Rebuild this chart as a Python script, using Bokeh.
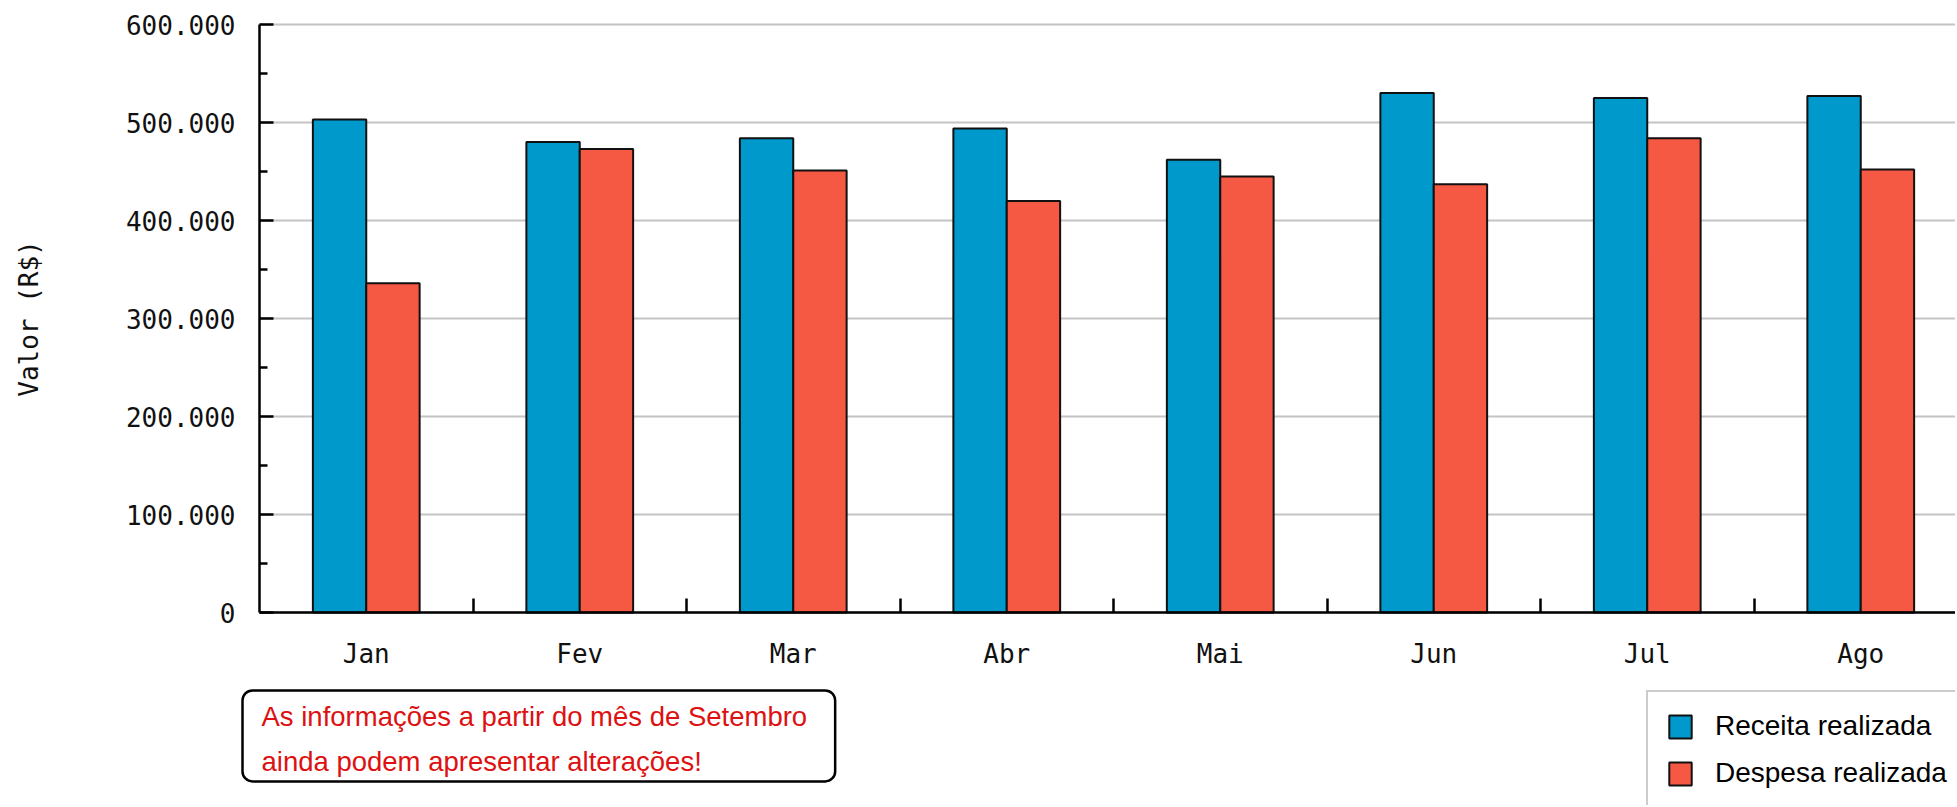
from bokeh.plotting import figure
from bokeh.models import FixedTicker, Label, Range1d, ColumnDataSource
from bokeh.embed import file_html
from bokeh.resources import INLINE
import numpy as np

# ---- data ----
months = ["Jan", "Fev", "Mar", "Abr", "Mai", "Jun", "Jul", "Ago"]
receita = [503000, 480000, 484000, 494000, 462000, 530000, 525000, 527000]
despesa = [336000, 473000, 451000, 420000, 445000, 437000, 484000, 452000]
y_ticks = [0, 100000, 200000, 300000, 400000, 500000, 600000]
y_tick_labels = ["0", "100.000", "200.000", "300.000", "400.000", "500.000", "600.000"]
series_names = ["Receita realizada", "Despesa realizada"]
axis_title = "Valor (R$)"
note_lines = ["As informações a partir do mês de Setembro",
              "ainda podem apresentar alterações!"]

BLUE = "#0099CC"
RED = "#F55944"
MONO = "DejaVu Sans Mono"
SANS = "Liberation Sans"
GRID = "#c4c4c4"

# ---- canvas geometry (pixels) ----
W, H = 1955, 805
X0, Y0 = 259, 612          # pixel position of (x=0, y=0)
PX_CAT = 213.5             # pixels per month
PX_VAL = 98.0 / 100000     # pixels per R$

def xd(px):  # pixel column -> data x
    return (px - X0) / PX_CAT

def yd(py):  # pixel row -> data y
    return (Y0 - py) / PX_VAL

x_start, x_end = xd(0), xd(W)
y_start, y_end = yd(H), yd(0)

idx = np.arange(len(months))
src = ColumnDataSource(dict(
    x_r=idx + 0.375, x_d=idx + 0.625,
    receita=receita, despesa=despesa,
))

p = figure(width=W, height=H, title=None,
           x_range=Range1d(x_start, x_end), y_range=Range1d(y_start, y_end),
           output_backend="svg", toolbar_location=None, min_border=0)
p.outline_line_color = None
p.background_fill_color = "white"
p.border_fill_color = "white"

# horizontal grid lines, only to the right of the y axis
p.xgrid.visible = False
if "cross_bounds" in p.ygrid[0].properties():
    p.ygrid.cross_bounds = (0, x_end)
    p.ygrid.grid_line_color = GRID
    p.ygrid.grid_line_width = 2
else:
    p.ygrid.visible = False
    gsrc = ColumnDataSource(dict(y=y_ticks, x0=[0] * len(y_ticks),
                                 x1=[x_end] * len(y_ticks)))
    p.segment(x0="x0", y0="y", x1="x1", y1="y", source=gsrc,
              line_color=GRID, line_width=2)

p.vbar(x="x_r", top="receita", width=0.25, source=src,
       fill_color=BLUE, line_color="#111111", line_width=2,
       legend_label=series_names[0])
p.vbar(x="x_d", top="despesa", width=0.25, source=src,
       fill_color=RED, line_color="#111111", line_width=2,
       legend_label=series_names[1])

# x axis (drawn at y = 0)
p.xaxis.fixed_location = 0
p.xaxis.bounds = (0, x_end)
p.xaxis.ticker = FixedTicker(ticks=[float(i + 0.5) for i in idx],
                             minor_ticks=[float(i) for i in idx[1:]])
p.xaxis.major_label_overrides = {float(i + 0.5): m for i, m in zip(idx, months)}
p.xaxis.major_tick_in = 0
p.xaxis.major_tick_out = 0
p.xaxis.minor_tick_in = 14
p.xaxis.minor_tick_out = 0
p.xaxis.minor_tick_line_width = 2.5
p.xaxis.minor_tick_line_color = "black"
p.xaxis.axis_line_width = 2.5
p.xaxis.axis_line_color = "black"
p.xaxis.major_label_text_font = MONO
p.xaxis.major_label_text_font_size = "26px"
p.xaxis.major_label_text_color = "#111111"
p.xaxis.major_label_standoff = 26

# y axis (drawn at x = 0)
minor_y = [(a + b) / 2 for a, b in zip(y_ticks[:-1], y_ticks[1:])]
p.yaxis.fixed_location = 0
p.yaxis.bounds = (y_ticks[0], y_ticks[-1])
p.yaxis.ticker = FixedTicker(ticks=y_ticks, minor_ticks=minor_y)
p.yaxis.major_label_overrides = {t: l for t, l in zip(y_ticks, y_tick_labels)}
p.yaxis.major_tick_in = 14
p.yaxis.major_tick_out = 0
p.yaxis.minor_tick_in = 8
p.yaxis.minor_tick_out = 0
p.yaxis.major_tick_line_width = 2.5
p.yaxis.minor_tick_line_width = 2.5
p.yaxis.axis_line_width = 2.5
p.yaxis.axis_line_color = "black"
p.yaxis.major_label_text_font = MONO
p.yaxis.major_label_text_font_size = "26px"
p.yaxis.major_label_text_color = "#111111"
p.yaxis.major_label_standoff = 24
p.yaxis.axis_label = axis_title
p.yaxis.axis_label_text_font = MONO
p.yaxis.axis_label_text_font_size = "26px"
p.yaxis.axis_label_text_font_style = "normal"
p.yaxis.axis_label_text_color = "#111111"
p.yaxis.axis_label_standoff = 79

# legend (bottom right, partly cut like the original)
lg = p.legend[0]
lg.location = (1646, H - 809)
lg.orientation = "vertical"
lg.padding = 18
lg.margin = 0
lg.spacing = 15
lg.glyph_width = 28
lg.glyph_height = 29
lg.label_height = 29
lg.label_standoff = 21
lg.label_text_font = SANS
lg.label_text_font_size = "28px"
lg.label_text_color = "black"
lg.border_line_color = "#999999"
lg.border_line_width = 2
lg.background_fill_color = "white"
lg.background_fill_alpha = 1.0

# note box
note = Label(x=xd(242), y=yd(690), x_units="data", y_units="data",
             text="\n".join(note_lines), anchor="top_left",
             text_font=SANS, text_font_size="27.5px", text_color="#DD1111",
             text_line_height=1.48,
             background_fill_color="white", background_fill_alpha=1.0,
             border_line_color="black", border_line_width=2.5,
             border_radius=10,
             padding=dict(left=19, right=28, top=10, bottom=4))
p.add_layout(note)

open("out.html", "w").write(file_html(p, INLINE))
